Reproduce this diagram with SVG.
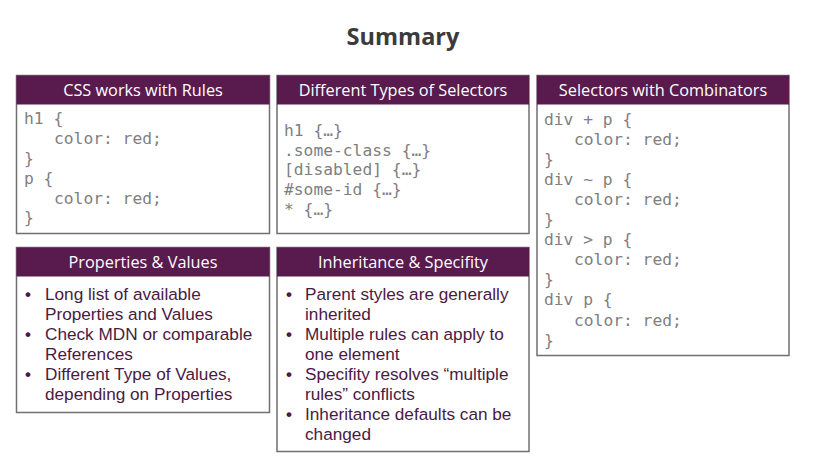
<svg xmlns="http://www.w3.org/2000/svg" width="818" height="465" viewBox="0 0 818 465">
<style>
.box{fill:#ffffff;stroke:#707070;stroke-width:1.5}
.hdr{fill:#591b4e}
.ht{font-family:"Open Sans",Lato,sans-serif;font-size:16.3px;fill:#ffffff;text-anchor:middle}
.code{font-family:"DejaVu Sans Mono","Liberation Mono",monospace;font-size:16.3px;fill:#808080}
.bt{font-family:"Liberation Sans",Arial,sans-serif;font-size:17.2px;fill:#4a1a43}
.bl{font-family:"Liberation Sans",Arial,sans-serif;font-size:17px;font-weight:bold;fill:#4a1a43}
.title{font-family:"Open Sans","DejaVu Sans",sans-serif;font-weight:bold;font-size:23.5px;fill:#3b3b3b;text-anchor:middle}
</style>
<rect width="818" height="465" fill="#ffffff"/>
<text class="title" x="403" y="45">Summary</text>

<g id="rules">
<rect class="box" x="16.5" y="75.5" width="253" height="158"/>
<rect class="hdr" x="16.5" y="75.5" width="253" height="29"/>
<text class="ht" x="143" y="96">CSS works with Rules</text>
<text class="code"><tspan x="24" y="124">h1 {</tspan><tspan x="54" y="144">color: red;</tspan><tspan x="24" y="164">}</tspan><tspan x="24" y="184">p {</tspan><tspan x="54" y="204">color: red;</tspan><tspan x="24" y="223">}</tspan></text>
</g>

<g id="selectors">
<rect class="box" x="277" y="75.5" width="252" height="158"/>
<rect class="hdr" x="277" y="75.5" width="252" height="29"/>
<text class="ht" x="403" y="96">Different Types of Selectors</text>
<text class="code"><tspan x="284" y="136">h1 {…}</tspan><tspan x="284" y="156">.some-class {…}</tspan><tspan x="284" y="175">[disabled] {…}</tspan><tspan x="284" y="195">#some-id {…}</tspan><tspan x="284" y="215">* {…}</tspan></text>
</g>

<g id="combinators">
<rect class="box" x="537" y="75.5" width="252" height="280"/>
<rect class="hdr" x="537" y="75.5" width="252" height="29"/>
<text class="ht" x="663" y="96">Selectors with Combinators</text>
<text class="code"><tspan x="544" y="125">div + p {</tspan><tspan x="574" y="145">color: red;</tspan><tspan x="544" y="165">}</tspan><tspan x="544" y="185">div ~ p {</tspan><tspan x="574" y="205">color: red;</tspan><tspan x="544" y="225">}</tspan><tspan x="544" y="245">div &gt; p {</tspan><tspan x="574" y="265">color: red;</tspan><tspan x="544" y="285">}</tspan><tspan x="544" y="305">div p {</tspan><tspan x="574" y="326">color: red;</tspan><tspan x="544" y="346">}</tspan></text>
</g>

<g id="properties">
<rect class="box" x="16.5" y="247.5" width="253" height="165"/>
<rect class="hdr" x="16.5" y="247.5" width="253" height="29"/>
<text class="ht" x="143" y="268">Properties &amp; Values</text>
<text class="bl"><tspan x="25" y="300">•</tspan><tspan x="25" y="340">•</tspan><tspan x="25" y="380">•</tspan></text>
<text class="bt"><tspan x="45" y="300">Long list of available</tspan><tspan x="45" y="320">Properties and Values</tspan><tspan x="45" y="340">Check MDN or comparable</tspan><tspan x="45" y="360">References</tspan><tspan x="45" y="380">Different Type of Values,</tspan><tspan x="45" y="400">depending on Properties</tspan></text>
</g>

<g id="inheritance">
<rect class="box" x="277" y="247.5" width="252" height="204"/>
<rect class="hdr" x="277" y="247.5" width="252" height="29"/>
<text class="ht" x="403" y="268">Inheritance &amp; Specifity</text>
<text class="bl"><tspan x="286" y="300">•</tspan><tspan x="286" y="340">•</tspan><tspan x="286" y="380">•</tspan><tspan x="286" y="420">•</tspan></text>
<text class="bt"><tspan x="305" y="300">Parent styles are generally</tspan><tspan x="305" y="320">inherited</tspan><tspan x="305" y="340">Multiple rules can apply to</tspan><tspan x="305" y="360">one element</tspan><tspan x="305" y="380">Specifity resolves “multiple</tspan><tspan x="305" y="400">rules” conflicts</tspan><tspan x="305" y="420">Inheritance defaults can be</tspan><tspan x="305" y="440">changed</tspan></text>
</g>

<g id="connectors"></g>
</svg>
